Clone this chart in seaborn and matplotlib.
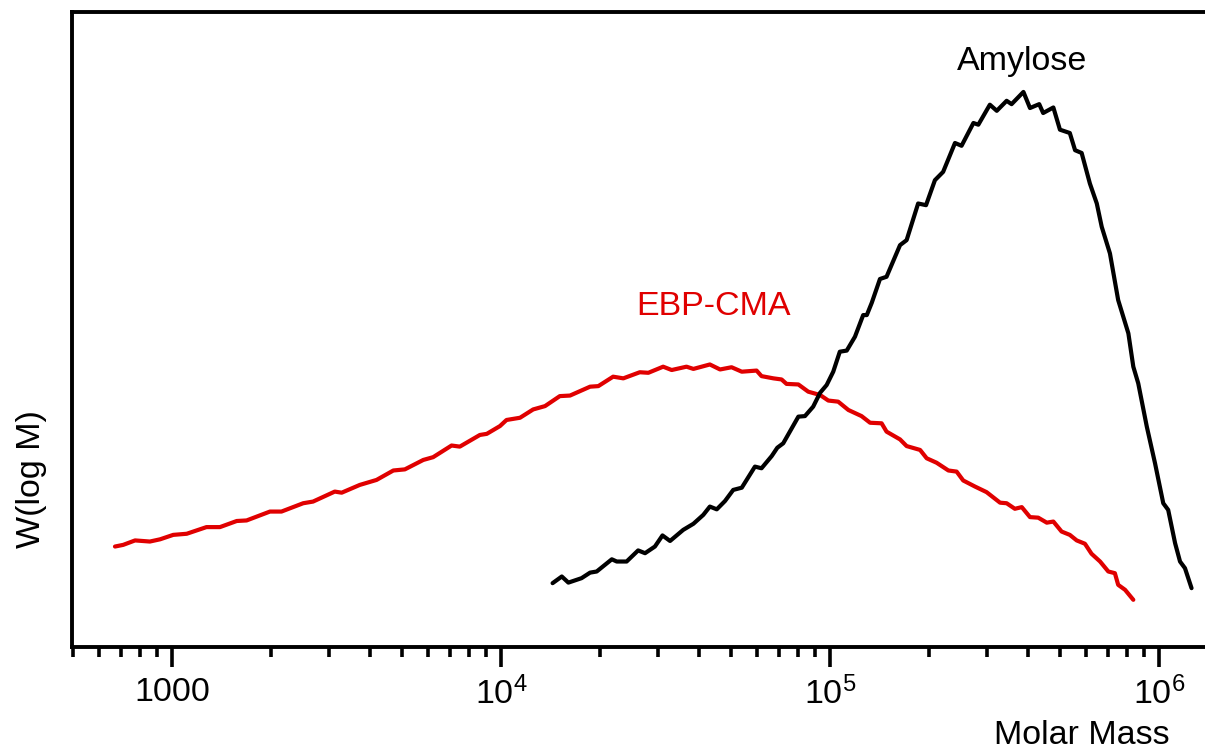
import numpy as np
import pandas as pd
import seaborn as sns
import matplotlib.pyplot as plt
from matplotlib.ticker import FixedLocator, NullFormatter

# GPC molar mass distributions
# log10(M) and W(log M) (normalised to the amylose maximum)
amylose_logm = [4.157, 4.185, 4.205, 4.245, 4.271, 4.291, 4.337, 4.352, 4.382, 4.417,
                4.438, 4.468, 4.491, 4.514, 4.554, 4.585, 4.615, 4.635, 4.656, 4.681,
                4.706, 4.732, 4.772, 4.792, 4.823, 4.840, 4.858, 4.904, 4.924, 4.949,
                4.970, 4.990, 5.010, 5.030, 5.051, 5.076, 5.101, 5.112, 5.127, 5.152,
                5.172, 5.213, 5.233, 5.268, 5.292, 5.319, 5.344, 5.380, 5.400, 5.436,
                5.451, 5.486, 5.507, 5.537, 5.552, 5.588, 5.608, 5.636, 5.648, 5.679,
                5.699, 5.729, 5.745, 5.765, 5.790, 5.811, 5.826, 5.851, 5.876, 5.907,
                5.922, 5.937, 5.963, 5.988, 6.013, 6.028, 6.049, 6.064, 6.079, 6.099]
amylose_w = [0.115, 0.127, 0.116, 0.124, 0.134, 0.136, 0.158, 0.154, 0.154, 0.174,
             0.169, 0.181, 0.201, 0.191, 0.211, 0.222, 0.238, 0.253, 0.248, 0.263,
             0.283, 0.287, 0.325, 0.322, 0.344, 0.359, 0.367, 0.415, 0.416, 0.433,
             0.458, 0.472, 0.496, 0.532, 0.534, 0.559, 0.598, 0.598, 0.620, 0.663,
             0.667, 0.724, 0.733, 0.799, 0.796, 0.841, 0.856, 0.908, 0.903, 0.944,
             0.941, 0.977, 0.966, 0.984, 0.978, 1.000, 0.971, 0.978, 0.962, 0.972,
             0.932, 0.926, 0.895, 0.890, 0.835, 0.799, 0.757, 0.709, 0.625, 0.565,
             0.505, 0.475, 0.397, 0.331, 0.259, 0.247, 0.187, 0.154, 0.142, 0.106]

ebp_logm = [2.827, 2.852, 2.888, 2.933, 2.964, 3.004, 3.045, 3.105, 3.146, 3.197,
            3.227, 3.298, 3.333, 3.399, 3.429, 3.495, 3.516, 3.571, 3.622, 3.673,
            3.708, 3.764, 3.794, 3.850, 3.875, 3.936, 3.957, 3.997, 4.017, 4.058,
            4.098, 4.134, 4.179, 4.210, 4.271, 4.296, 4.341, 4.372, 4.422, 4.448,
            4.493, 4.519, 4.564, 4.585, 4.635, 4.666, 4.701, 4.732, 4.777, 4.792,
            4.828, 4.853, 4.868, 4.904, 4.934, 4.970, 4.995, 5.025, 5.056, 5.096,
            5.122, 5.157, 5.172, 5.213, 5.233, 5.274, 5.294, 5.324, 5.360, 5.385,
            5.405, 5.441, 5.476, 5.517, 5.537, 5.562, 5.583, 5.608, 5.633, 5.659,
            5.679, 5.704, 5.729, 5.750, 5.775, 5.795, 5.821, 5.846, 5.866, 5.876,
            5.897, 5.922]
ebp_w = [0.181, 0.184, 0.192, 0.190, 0.194, 0.202, 0.204, 0.216, 0.216, 0.227,
         0.228, 0.244, 0.244, 0.259, 0.262, 0.280, 0.278, 0.292, 0.301, 0.318,
         0.320, 0.337, 0.342, 0.363, 0.361, 0.382, 0.384, 0.398, 0.409, 0.413,
         0.428, 0.434, 0.452, 0.453, 0.469, 0.470, 0.487, 0.484, 0.495, 0.494,
         0.505, 0.499, 0.505, 0.501, 0.509, 0.500, 0.504, 0.496, 0.498, 0.488,
         0.484, 0.482, 0.474, 0.473, 0.460, 0.454, 0.444, 0.442, 0.427, 0.416,
         0.404, 0.403, 0.388, 0.374, 0.362, 0.355, 0.340, 0.332, 0.318, 0.316,
         0.300, 0.289, 0.279, 0.260, 0.259, 0.249, 0.252, 0.234, 0.233, 0.224,
         0.226, 0.208, 0.202, 0.192, 0.186, 0.168, 0.154, 0.136, 0.133, 0.112,
         0.103, 0.085]

major_ticks = [1e3, 1e4, 1e5, 1e6]
major_labels = ['1000', r'$10^{4}$', r'$10^{5}$', r'$10^{6}$']

red = '#e00000'

sns.set_style('ticks')
plt.rcParams['font.family'] = ['Liberation Sans', 'DejaVu Sans']
plt.rcParams['mathtext.fontset'] = 'custom'
plt.rcParams['mathtext.rm'] = 'Liberation Sans'
plt.rcParams['mathtext.it'] = 'Liberation Sans'
plt.rcParams['text.color'] = 'black'
plt.rcParams['axes.labelcolor'] = 'black'
plt.rcParams['xtick.color'] = 'black'
plt.rcParams['xtick.labelcolor'] = 'black'

amy_df = pd.DataFrame({'M': np.power(10.0, amylose_logm), 'W': amylose_w})
ebp_df = pd.DataFrame({'M': np.power(10.0, ebp_logm), 'W': ebp_w})

fig = plt.figure(figsize=(12.05, 7.56), dpi=100)
ax = fig.add_axes([72 / 1205, 109 / 756, 1133 / 1205, 635 / 756])

sns.lineplot(data=ebp_df, x='M', y='W', color=red, linewidth=3.0, estimator=None,
             solid_joinstyle='round', solid_capstyle='round', ax=ax)
sns.lineplot(data=amy_df, x='M', y='W', color='black', linewidth=3.0, estimator=None,
             solid_joinstyle='round', solid_capstyle='round', ax=ax)

ax.set_xscale('log')
ax.set_xlim(497, 1.38e6)
ax.set_ylim(0, 1.144)

# spines: left, bottom, top
for s in ['left', 'bottom', 'top']:
    ax.spines[s].set_linewidth(2.8)
    ax.spines[s].set_color('black')
ax.spines['right'].set_visible(False)

ax.xaxis.set_major_locator(FixedLocator(major_ticks))
ax.set_xticklabels(major_labels)
minor = [m * d for d in [100, 1e3, 1e4, 1e5] for m in range(2, 10) if 497 <= m * d <= 1.38e6]
ax.xaxis.set_minor_locator(FixedLocator(minor))
ax.xaxis.set_minor_formatter(NullFormatter())
ax.tick_params(axis='x', which='major', length=14.5, width=2.6, direction='out',
               labelsize=24.5, pad=7, colors='black')
ax.tick_params(axis='x', which='minor', length=7.2, width=2.6, direction='out', colors='black')
ax.set_yticks([])
ax.tick_params(axis='y', which='both', left=False)

ax.set_xlabel('Molar Mass', fontsize=24.5, color='black')
ax.xaxis.set_label_coords(0.891, -0.115)
ax.set_ylabel('W(log M)', fontsize=24.5, color='black')
ax.yaxis.set_label_coords(-0.022, 0.265)

ax.text(3.84e5, 1.054, 'Amylose', fontsize=24.5, color='black', ha='center', va='center')
ax.text(4.44e4, 0.614, 'EBP-CMA', fontsize=24.5, color=red, ha='center', va='center')

fig.savefig('out.png', dpi=100)
